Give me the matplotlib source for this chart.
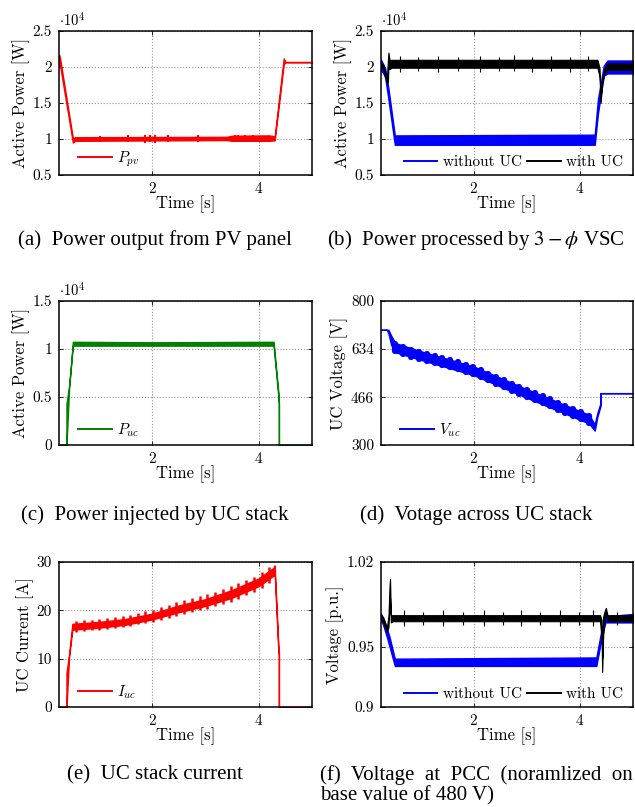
import matplotlib
matplotlib.use('Agg')
import matplotlib.pyplot as plt
from matplotlib.lines import Line2D

plt.rcParams['font.family'] = 'cmr10'
plt.rcParams['mathtext.fontset'] = 'cm'
plt.rcParams['axes.formatter.use_mathtext'] = True

RED, BLUE, GREEN, BLACK = '#ff0000', '#0000ff', '#008000', '#000000'

# (a) PV output power [x1e4 W]: envelope of the noisy trace
ppv_t  = [0.26, 0.28, 0.52, 0.56, 3.40, 3.50, 4.20, 4.28, 4.30, 4.47, 4.50, 5.00]
ppv_lo = [2.00, 2.02, 0.95, 0.975, 0.985, 0.975, 0.975, 0.98, 0.98, 2.04, 2.065, 2.065]
ppv_hi = [2.17, 2.12, 1.01, 1.025, 1.03, 1.045, 1.05, 1.04, 1.03, 2.12, 2.07, 2.07]
ppv_spike_t  = [1.03, 1.56, 1.87, 1.96, 2.05, 2.30, 2.86, 3.55, 3.62, 3.75, 3.90]
ppv_spike_lo = [0.96, 0.955, 0.95, 0.955, 0.95, 0.955, 0.955, 0.96, 0.96, 0.96, 0.96]
ppv_spike_hi = [1.04, 1.05, 1.06, 1.055, 1.06, 1.05, 1.055, 1.06, 1.06, 1.06, 1.06]

# (b) VSC power [x1e4 W]
pb_t  = [0.26, 0.30, 0.34, 0.40, 0.52, 0.56, 4.28, 4.34, 4.45, 4.52, 5.00]
pb_lo = [1.95, 1.92, 1.85, 1.55, 0.92, 0.92, 0.92, 1.35, 1.88, 1.91, 1.91]
pb_hi = [2.10, 2.04, 1.98, 1.70, 1.05, 1.05, 1.06, 1.55, 2.02, 2.09, 2.09]
pk_t  = [0.26, 0.30, 0.37, 0.39, 0.40, 0.42, 0.46, 4.33, 4.37, 4.39, 4.42, 4.46, 4.52, 5.00]
pk_lo = [1.99, 1.98, 1.77, 1.80, 2.00, 1.97, 1.99, 1.99, 1.87, 1.50, 1.76, 1.91, 1.96, 1.96]
pk_hi = [2.05, 2.04, 1.83, 2.10, 2.20, 2.10, 2.10, 2.10, 1.99, 1.57, 1.84, 1.97, 2.05, 2.05]
pk_spike_t  = [0.62, 0.95, 1.33, 1.70, 2.12, 2.48, 2.77, 3.10, 3.46, 3.81, 4.15]
pk_spike_lo = [1.93, 1.94, 1.93, 1.94, 1.93, 1.94, 1.94, 1.93, 1.94, 1.93, 1.94]
pk_spike_hi = [2.15, 2.14, 2.15, 2.14, 2.15, 2.14, 2.16, 2.14, 2.15, 2.14, 2.15]

# (c) UC power [x1e4 W]
puc_t  = [0.26, 0.40, 0.40, 0.45, 0.52, 2.00, 4.28, 4.37, 4.38, 4.38, 5.00]
puc_lo = [0.0, 0.0, 0.0, 0.60, 1.035, 1.035, 1.035, 0.50, 0.42, 0.0, 0.0]
puc_hi = [0.0, 0.0, 0.43, 0.62, 1.075, 1.07, 1.075, 0.55, 0.45, 0.0, 0.0]

# (d) UC voltage [V]: base band plus ripple blobs
vuc_t  = [0.26, 0.37, 0.40, 0.45, 0.53, 1.00, 2.00, 3.00, 4.00, 4.17, 4.28, 4.33, 4.39, 4.39, 5.00]
vuc_lo = [700, 700, 688, 648, 622, 596, 543, 464, 388, 375, 350, 398, 436, 480, 480]
vuc_hi = [700, 700, 700, 680, 654, 626, 573, 494, 418, 405, 372, 412, 446, 480, 480]
vuc_blob_t = [0.53, 0.68, 0.83, 0.98, 1.12, 1.27, 1.41, 1.56, 1.70, 1.85, 1.99, 2.14, 2.28,
              2.43, 2.57, 2.72, 2.86, 3.01, 3.15, 3.30, 3.44, 3.59, 3.73, 3.88, 4.02, 4.17]
vuc_blob_lo = [626, 616, 607, 599, 592, 585, 578, 570, 563, 555, 546, 535, 524,
               512, 501, 489, 478, 467, 456, 445, 434, 423, 412, 401, 390, 378]
vuc_blob_hi = [650, 640, 631, 623, 616, 609, 602, 594, 587, 579, 570, 559, 548,
               536, 525, 513, 502, 491, 480, 469, 458, 447, 436, 425, 414, 402]

# (e) UC current [A]
iuc_t  = [0.26, 0.40, 0.40, 0.45, 0.51, 1.00, 1.50, 2.00, 2.50, 3.00, 3.50, 4.00, 4.28, 4.30, 4.37, 4.38, 4.38, 5.00]
iuc_lo = [0, 0, 0, 10.5, 16.0, 16.4, 17.0, 18.1, 19.6, 20.9, 22.6, 25.0, 27.2, 27.8, 11.5, 10.5, 0, 0]
iuc_hi = [0, 0, 7.0, 11.0, 17.2, 17.6, 18.2, 19.3, 21.0, 22.3, 24.2, 26.6, 28.8, 29.3, 12.5, 11.5, 0, 0]
iuc_spike_t = [0.58, 0.72, 0.87, 1.01, 1.16, 1.30, 1.45, 1.59, 1.74, 1.88, 2.03, 2.17, 2.32,
               2.46, 2.61, 2.75, 2.90, 3.04, 3.19, 3.33, 3.48, 3.62, 3.77, 3.91, 4.06, 4.20]
iuc_spike_lo = [15.6, 15.8, 15.9, 16.0, 16.2, 16.3, 16.5, 16.7, 17.1, 17.3, 17.6, 18.1, 18.5,
                18.9, 19.3, 19.6, 20.0, 20.3, 20.8, 21.4, 21.8, 22.4, 23.1, 23.8, 24.7, 25.7]
iuc_spike_hi = [17.8, 18.0, 18.1, 18.2, 18.4, 18.6, 18.8, 19.1, 19.5, 19.8, 20.1, 20.7, 21.2,
                21.7, 22.1, 22.5, 22.9, 23.3, 23.8, 24.5, 25.0, 25.6, 26.3, 27.0, 27.9, 28.9]

# (f) PCC voltage [p.u.]
vb_t  = [0.26, 0.30, 0.37, 0.42, 0.52, 4.31, 4.40, 4.48, 5.00]
vb_lo = [0.972, 0.968, 0.958, 0.950, 0.934, 0.934, 0.955, 0.970, 0.970]
vb_hi = [0.977, 0.974, 0.965, 0.958, 0.940, 0.941, 0.962, 0.975, 0.977]
vk_t  = [0.26, 0.30, 0.37, 0.40, 0.42, 0.43, 0.445, 0.48, 4.38, 4.41, 4.42, 4.44, 4.47, 4.49, 4.52, 5.00]
vk_lo = [0.972, 0.970, 0.962, 0.966, 0.985, 0.990, 0.970, 0.971, 0.971, 0.955, 0.929, 0.960, 0.974, 0.978, 0.971, 0.971]
vk_hi = [0.976, 0.974, 0.966, 0.975, 1.000, 1.006, 0.976, 0.976, 0.976, 0.972, 0.940, 0.975, 0.980, 0.982, 0.976, 0.976]
vk_spike_t  = [0.70, 1.05, 1.42, 1.80, 2.20, 2.55, 2.90, 3.25, 3.62, 3.98, 4.25, 4.70]
vk_spike_lo = [0.967, 0.968, 0.967, 0.968, 0.967, 0.968, 0.967, 0.968, 0.967, 0.968, 0.967, 0.968]
vk_spike_hi = [0.980, 0.979, 0.980, 0.979, 0.980, 0.979, 0.980, 0.979, 0.980, 0.979, 0.980, 0.979]

xticks = [2, 4]
W, H = 635, 807


def make_axes(fig, x0, x1, y0, y1):
    ax = fig.add_axes([x0 / W, 1 - y1 / H, (x1 - x0) / W, (y1 - y0) / H])
    ax.set_xlim(0.26, 5.0)
    ax.set_xticks(xticks)
    ax.set_xticklabels([str(v) for v in xticks])
    ax.grid(True, ls=':', color='#999999', lw=0.8)
    ax.set_axisbelow(True)
    ax.tick_params(direction='in', length=3, width=0.6, top=True, right=True,
                   labelsize=11, pad=5)
    for s in ax.spines.values():
        s.set_linewidth(1.1)
    ax.set_xlabel('Time [s]', fontsize=12, labelpad=0)
    return ax


def set_y(ax, ticks, labels, lim, label):
    ax.set_ylim(*lim)
    ax.set_yticks(ticks)
    ax.set_yticklabels(labels)
    ax.set_ylabel(label, fontsize=12, labelpad=2)


def band(ax, t, lo, hi, color, lw=1.0):
    ax.fill_between(t, lo, hi, color=color, edgecolor=color, lw=lw)


def legend(ax, items, loc, anchor):
    handles = [Line2D([], [], color=c, lw=1.4) for c, _ in items]
    ax.legend(handles, [s for _, s in items], loc=loc, bbox_to_anchor=anchor,
              frameon=False, fontsize=11, handlelength=2.2, handletextpad=0.35,
              columnspacing=0.35, ncol=len(items), borderaxespad=0.0, borderpad=0.0)


def offset(ax):
    ax.text(0.0, 1.015, r'$\cdot 10^{4}$', transform=ax.transAxes, fontsize=10.5,
            ha='left', va='bottom')


fig = plt.figure(figsize=(W / 100, H / 100), dpi=100)

# (a)
ax = make_axes(fig, 59, 312, 31, 175)
set_y(ax, [0.5, 1, 1.5, 2, 2.5], ['0.5', '1', '1.5', '2', '2.5'], (0.5, 2.5), 'Active Power [W]')
band(ax, ppv_t, ppv_lo, ppv_hi, RED)
ax.vlines(ppv_spike_t, ppv_spike_lo, ppv_spike_hi, color=RED, lw=1.5)
offset(ax)
legend(ax, [(RED, r'$P_{pv}$')], 'lower left', (0.075, 0.04))

# (b)
ax = make_axes(fig, 381, 633, 31, 175)
set_y(ax, [0.5, 1, 1.5, 2, 2.5], ['0.5', '1', '1.5', '2', '2.5'], (0.5, 2.5), 'Active Power [W]')
band(ax, pb_t, pb_lo, pb_hi, BLUE)
band(ax, pk_t, pk_lo, pk_hi, BLACK, lw=0.8)
ax.vlines(pk_spike_t, pk_spike_lo, pk_spike_hi, color=BLACK, lw=0.8)
offset(ax)
legend(ax, [(BLUE, 'without UC'), (BLACK, 'with UC')], 'lower right', (0.96, 0.04))

# (c)
ax = make_axes(fig, 59, 312, 301, 445)
set_y(ax, [0, 0.5, 1, 1.5], ['0', '0.5', '1', '1.5'], (0, 1.5), 'Active Power [W]')
band(ax, puc_t, puc_lo, puc_hi, GREEN)
offset(ax)
legend(ax, [(GREEN, r'$P_{uc}$')], 'lower left', (0.075, 0.04))

# (d)
ax = make_axes(fig, 381, 633, 301, 445)
set_y(ax, [300, 466, 634, 800], ['300', '466', '634', '800'], (300, 800), 'UC Voltage [V]')
band(ax, vuc_t, vuc_lo, vuc_hi, BLUE)
for t, lo, hi in zip(vuc_blob_t, vuc_blob_lo, vuc_blob_hi):
    ax.plot([t, t], [lo, hi], color=BLUE, lw=4.5, solid_capstyle='round')
legend(ax, [(BLUE, r'$V_{uc}$')], 'lower left', (0.075, 0.04))

# (e)
ax = make_axes(fig, 59, 312, 562, 707)
set_y(ax, [0, 10, 20, 30], ['0', '10', '20', '30'], (0, 30), 'UC Current [A]')
band(ax, iuc_t, iuc_lo, iuc_hi, RED)
ax.vlines(iuc_spike_t, iuc_spike_lo, iuc_spike_hi, color=RED, lw=1.8)
legend(ax, [(RED, r'$I_{uc}$')], 'lower left', (0.075, 0.04))

# (f)
ax = make_axes(fig, 381, 633, 562, 707)
set_y(ax, [0.9, 0.95, 1.02], ['0.9', '0.95', '1.02'], (0.9, 1.02), 'Voltage [p.u.]')
band(ax, vb_t, vb_lo, vb_hi, BLUE)
band(ax, vk_t, vk_lo, vk_hi, BLACK, lw=0.8)
ax.vlines(vk_spike_t, vk_spike_lo, vk_spike_hi, color=BLACK, lw=0.8)
legend(ax, [(BLUE, 'without UC'), (BLACK, 'with UC')], 'lower right', (0.96, 0.04))

# sub-figure captions
cap = dict(fontsize=15, family='Liberation Serif', va='center', math_fontfamily='stix')
fig.text(155 / W, 1 - 240 / H, '(a)  Power output from PV panel', ha='center', **cap)
fig.text(476 / W, 1 - 240 / H, r'(b)  Power processed by $3-\phi$ VSC', ha='center', **cap)
fig.text(155 / W, 1 - 515 / H, '(c)  Power injected by UC stack', ha='center', **cap)
fig.text(476 / W, 1 - 515 / H, '(d)  Votage across UC stack', ha='center', **cap)
fig.text(155 / W, 1 - 775 / H, '(e)  UC stack current', ha='center', **cap)
fig.text(320 / W, 1 - 775 / H, '(f)  Voltage  at  PCC  (noramlized  on', ha='left', **cap)
fig.text(320 / W, 1 - 796 / H, 'base value of 480 V)', ha='left', **cap)

fig.savefig('out.png', dpi=100)
